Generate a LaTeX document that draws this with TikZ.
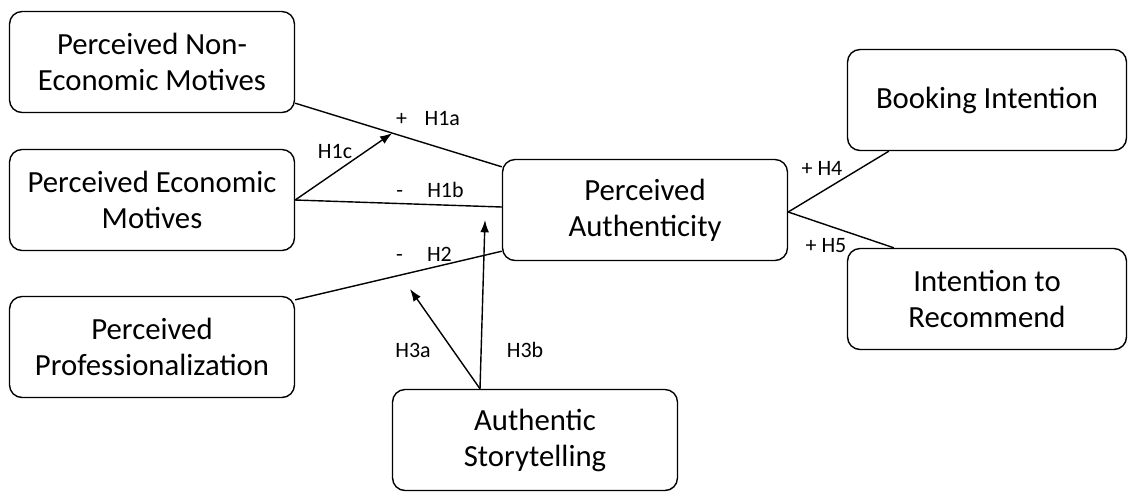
\documentclass[tikz,border=0pt]{standalone}
\usepackage{fontspec}
\setmainfont{Carlito}
\usetikzlibrary{arrows.meta,positioning,calc}
\tikzset{
  box/.style={draw, line width=0.8pt, rounded corners=0.25cm, align=center,
    minimum width=5.7cm, minimum height=2.02cm, inner sep=2pt,
    font=\fontsize{17.5}{20.5}\selectfont},
  link/.style={line width=0.8pt},
  hyp/.style={font=\fontsize{12.5}{14}\selectfont, inner sep=1pt},
  arr/.style={line width=0.8pt, -{Latex[length=7pt,width=5pt]}}
}
\begin{document}
\begin{tikzpicture}[line join=round, x=0.02cm, y=-0.02cm]
\useasboundingbox (0,0) rectangle (1128,491);
% boxes
\node[box] (nonecon) at (152,62)  {Perceived Non-\\Economic Motives};
\node[box] (econ)    at (152,200) {Perceived Economic\\Motives};
\node[box] (prof)    at (152,347) {Perceived\\Professionalization};
\node[box] (auth)    at (645,210) {Perceived\\Authenticity};
\node[box, minimum width=5.58cm] (book) at (987,100) {Booking Intention};
\node[box, minimum width=5.58cm] (recom) at (987,299) {Intention to\\Recommend};
\node[box] (story)   at (535,440) {Authentic\\Storytelling};
% connectors
\coordinate (a1) at ($(nonecon.south east)+(0,-10)$);
\coordinate (a2) at ($(auth.north west)+(0,8)$);
\draw[link] (a1)--(a2);
\path (a1)--(a2) coordinate[pos=0.47] (h1c);
\draw[link] (econ.east)--($(auth.west)+(0,-3)$);
\draw[link] ($(prof.north east)+(0,4)$)--($(auth.south west)+(0,-10)$);
\draw[arr] (econ.east)--(h1c);
\coordinate (s) at ($(story.north)+(-55,0)$);
\coordinate (t3a) at (410,289);
\coordinate (t3b) at (485,220);
\draw[arr] (s)--(t3a);
\draw[arr] (s)--(t3b);
\draw[link] ($(auth.east)+(0,2)$)--($(book.south west)+(42,0)$);
\draw[link] ($(auth.east)+(0,2)$)--($(recom.north west)+(47,0)$);
% labels
\node[hyp] (l1a) at (428,119) {+\hspace{0.8em}H1a};
\node[hyp] (l1c) at (335,152) {H1c};
\node[hyp] (l1b) at (430,190) {-\hspace{1.1em}H1b};
\node[hyp] (l2)  at (424,254) {-\hspace{1.1em}H2};
\node[hyp] (l3a) at (413,350) {H3a};
\node[hyp] (l3b) at (525,350) {H3b};
\node[hyp] (l4)  at (822,168) {+ H4};
\node[hyp] (l5)  at (826,246) {+ H5};
\end{tikzpicture}
\end{document}
